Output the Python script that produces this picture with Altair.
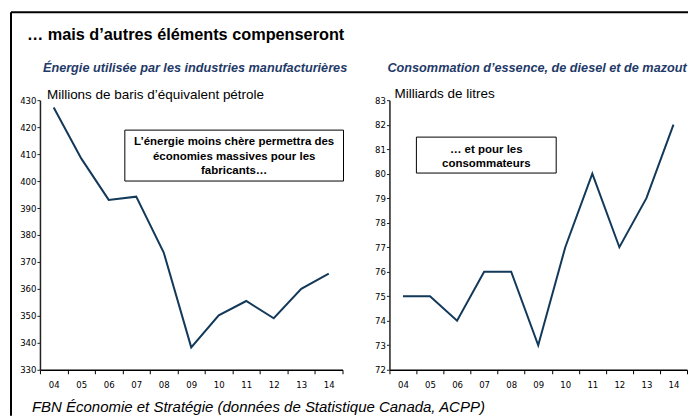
import altair as alt
import pandas as pd

# ---- data ----
years = ["04", "05", "06", "07", "08", "09", "10", "11", "12", "13", "14"]
energy = [427.3, 408.4, 393.0, 394.2, 373.5, 338.3, 350.2, 355.5, 349.1, 360.0, 365.7]
fuel = [75, 75, 74, 76, 76, 73, 77, 80, 77, 79, 82]
left_ticks = [330, 340, 350, 360, 370, 380, 390, 400, 410, 420, 430]
right_ticks = [72, 73, 74, 75, 76, 77, 78, 79, 80, 81, 82, 83]

main_title = "… mais d’autres éléments compenseront"
left_subtitle = "Énergie utilisée par les industries manufacturières"
right_subtitle = "Consommation d’essence, de diesel et de mazout"
left_unit = "Millions de baris d’équivalent pétrole"
right_unit = "Milliards de litres"
left_note = ["L’énergie moins chère permettra des", "économies massives pour les", "fabricants…"]
right_note = ["… et pour les", "consommateurs"]
source = "FBN Économie et Stratégie (données de Statistique Canada, ACPP)"

df_l = pd.DataFrame({"year": years, "value": energy})
df_r = pd.DataFrame({"year": years, "value": fuel})
one = pd.DataFrame({"k": [0]})

FONT = "Liberation Sans, Arial, Helvetica, sans-serif"
TICK_FONT = "Liberation Sans Narrow, Arial Narrow, DejaVu Sans Condensed, sans-serif"
LINE = "#12395a"
NAVY = "#1f3a68"

W_L, W_R, H = 303, 298, 270


def x_enc():
    return alt.X(
        "year:N", sort=years, bandPosition=0.5,
        scale=alt.Scale(type="band", paddingInner=0, paddingOuter=0),
        axis=alt.Axis(title=None, labelAngle=0, tickBand="extent", tickSize=4,
                      labelPadding=6, domainColor="black", tickColor="black",
                      domainWidth=1.5, labelFont=TICK_FONT, labelFontSize=9.5,
                      labelColor="black"),
    )


def y_enc(dom, ticks):
    return alt.Y(
        "value:Q", scale=alt.Scale(domain=dom, nice=False, zero=False),
        axis=alt.Axis(title=None, values=ticks, grid=False, tickSize=3,
                      labelPadding=1, domainColor="#222", tickColor="#222",
                      domainWidth=1.5, labelFont=TICK_FONT, labelFontSize=9.5,
                      labelColor="black"),
    )


def txt(text, x, y, size, weight="normal", style="normal", color="black",
        align="left", line_height=None):
    kw = dict(font=FONT, fontSize=size, fontWeight=weight, fontStyle=style,
              color=color, align=align, baseline="alphabetic")
    if line_height:
        kw["lineHeight"] = line_height
    return alt.Chart(one).mark_text(**kw).encode(
        x=alt.value(x), y=alt.value(y), text=alt.value(text))


def box(x1, x2, y1, y2):
    return alt.Chart(one).mark_rect(fill="white", stroke="black", strokeWidth=1).encode(
        x=alt.value(x1), x2=alt.value(x2), y=alt.value(y1), y2=alt.value(y2))


# ---- left panel ----
line_l = alt.Chart(df_l).mark_line(color=LINE, strokeWidth=2).encode(
    x=x_enc(), y=y_enc([330, 430], left_ticks))

frame_v = alt.Chart(one).mark_rule(color="black", strokeWidth=2).encode(
    x=alt.value(-29), y=alt.value(-88), y2=alt.value(316))
frame_h = alt.Chart(one).mark_rule(color="black", strokeWidth=2).encode(
    x=alt.value(-29), x2=alt.value(649), y=alt.value(-88))

left = alt.layer(
    frame_v, frame_h,
    line_l,
    box(85, 304, 30, 81),
    txt(left_note, 194.5, 45, 11.5, weight="bold", align="center", line_height=14.5),
    txt(main_title, -13, -60, 16.3, weight="bold"),
    txt(left_subtitle, 3, -28, 12.7, weight="bold", style="italic", color=NAVY),
    txt(left_unit, 7, -1, 13.5),
    txt(source, -8, 312, 15, style="italic"),
).properties(width=W_L, height=H)

# ---- right panel ----
line_r = alt.Chart(df_r).mark_line(color=LINE, strokeWidth=2).encode(
    x=x_enc(), y=y_enc([72, 83], right_ticks))

right = alt.layer(
    line_r,
    box(27, 167, 37, 73),
    txt(right_note, 97, 53, 11.5, weight="bold", align="center", line_height=14),
    txt(right_subtitle, -2, -28, 12.7, weight="bold", style="italic", color=NAVY),
    txt(right_unit, 5, -2, 13.5),
).properties(width=W_R, height=H)

chart = alt.hconcat(left, right, spacing=47, bounds="flush").properties(
    padding={"left": 2, "top": 3, "right": 0, "bottom": 0},
    background="white",
).configure_view(stroke=None)

chart.save("out.html", embed_options={"renderer": "svg", "actions": False})
